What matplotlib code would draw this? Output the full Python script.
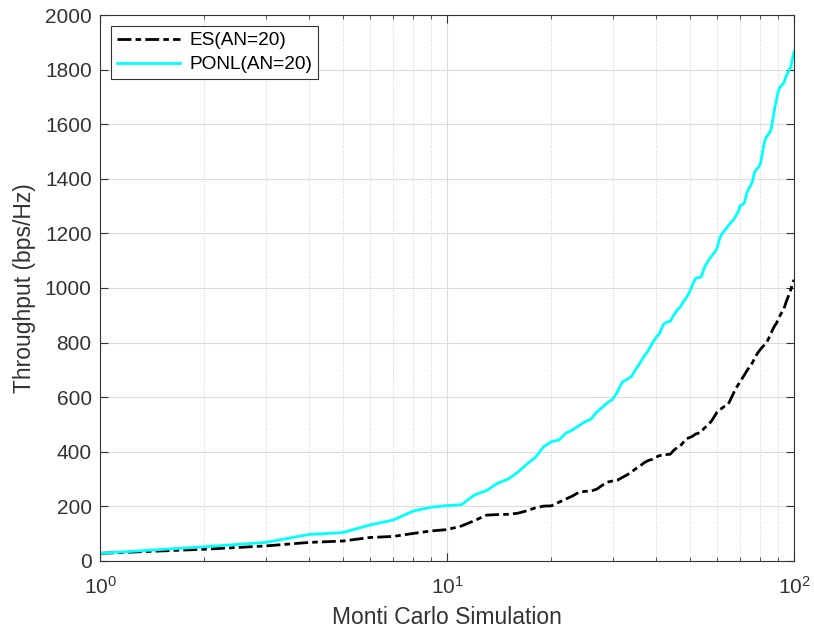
import numpy as np
import matplotlib.pyplot as plt
from matplotlib.ticker import FixedLocator, NullFormatter

plt.rcParams['font.family'] = ['Liberation Sans', 'DejaVu Sans']
plt.rcParams['mathtext.default'] = 'regular'

runs = np.arange(1, 101)

es_an20 = [
    28, 43, 55, 68, 73, 86, 90, 101, 110, 115,
    128, 148, 168, 170, 171, 175, 184, 195, 201, 202,
    215, 227, 238, 252, 255, 256, 263, 277, 289, 293,
    296, 306, 315, 326, 338, 348, 360, 368, 372, 380,
    386, 388, 390, 391, 405, 415, 421, 435, 448, 452,
    457, 465, 468, 472, 485, 494, 503, 515, 530, 545,
    552, 560, 566, 570, 580, 598, 615, 632, 645, 657,
    670, 682, 695, 706, 715, 728, 742, 755, 766, 775,
    783, 790, 796, 808, 822, 836, 850, 862, 870, 885,
    897, 908, 918, 932, 950, 965, 980, 995, 1015, 1030,
]

ponl_an20 = [
    28, 52, 68, 97, 104, 132, 150, 183, 197, 203,
    206, 242, 258, 285, 300, 325, 355, 380, 419, 437,
    443, 468, 480, 496, 510, 520, 545, 562, 580, 592,
    620, 655, 665, 676, 702, 726, 750, 770, 797, 818,
    834, 866, 875, 878, 900, 918, 930, 950, 965, 985,
    1012, 1035, 1038, 1040, 1070, 1090, 1105, 1118, 1130, 1145,
    1180, 1198, 1210, 1220, 1232, 1242, 1250, 1265, 1278, 1302,
    1305, 1312, 1345, 1362, 1375, 1392, 1425, 1435, 1442, 1455,
    1490, 1530, 1550, 1560, 1568, 1585, 1620, 1660, 1690, 1718,
    1735, 1742, 1746, 1760, 1778, 1788, 1800, 1812, 1840, 1865,
]

yticks = np.arange(0, 2001, 200)
xticks = [1, 10, 100]
xticklabels = ['$10^{0}$', '$10^{1}$', '$10^{2}$']

txt = '#333333'

fig = plt.figure(figsize=(8.14, 6.39), dpi=100)
ax = fig.add_axes([0.1229, 0.1221, 0.8525, 0.8544])

ax.plot(runs, es_an20, color='black', linewidth=2, dashes=(5, 1.5, 2, 1.5),
        label='ES(AN=20)')
ax.plot(runs, ponl_an20, color='#00ffff', linestyle='-', linewidth=2, label='PONL(AN=20)')

ax.set_xscale('log')
ax.set_xlim(1, 100)
ax.set_ylim(0, 2000)
ax.set_xticks(xticks)
ax.set_xticklabels(xticklabels)
minors = [m * d for d in (1, 10) for m in range(2, 10)]
ax.xaxis.set_minor_locator(FixedLocator(minors))
ax.xaxis.set_minor_formatter(NullFormatter())
ax.set_yticks(yticks)

ax.grid(True, which='major', color='#dcdcdc', linewidth=0.8, linestyle='-')
ax.grid(True, which='minor', axis='x', color='#d0d0d0', linewidth=0.7, linestyle=':')
ax.set_axisbelow(True)

ax.tick_params(which='both', direction='in', top=True, right=True,
               colors=txt, labelcolor=txt, labelsize=15)
ax.tick_params(which='major', length=6)
ax.tick_params(which='minor', length=3)
ax.tick_params(axis='x', which='major', pad=11)
ax.tick_params(axis='y', which='major', pad=6)
for s in ax.spines.values():
    s.set_color(txt)
    s.set_linewidth(0.8)

ax.set_xlabel('Monti Carlo Simulation', fontsize=16.5, color=txt, labelpad=6)
ax.set_ylabel('Throughput (bps/Hz)', fontsize=16.5, color=txt, labelpad=6)

leg = ax.legend(loc='upper left', fontsize=13.7, fancybox=False, framealpha=1,
                edgecolor=txt, borderaxespad=0.6, handlelength=3.3,
                labelspacing=0.35, borderpad=0.3, handletextpad=0.5)
leg.get_frame().set_linewidth(0.8)

fig.savefig('out.png', dpi=100)
